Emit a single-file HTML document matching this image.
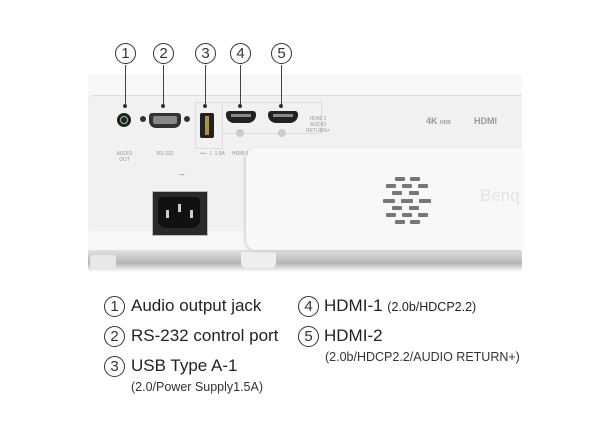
<!DOCTYPE html>
<html><head><style>
body{margin:0;width:615px;height:431px;background:#fff;position:relative;overflow:hidden;font-family:"Liberation Sans",sans-serif;color:#222}
.a{position:absolute}
.c{position:absolute;width:19px;height:19px;border:1.3px solid #333;border-radius:50%;text-align:center;line-height:19px;font-size:15px;color:#333;background:#fff}
.l{position:absolute;width:1px;background:#444}
.d{position:absolute;width:4px;height:4px;border-radius:50%;background:#333}
.t{position:absolute;font-size:17px;color:#222;white-space:nowrap}
.s{position:absolute;font-size:12.5px;color:#333;white-space:nowrap}
.lab{position:absolute;font-size:5px;color:#999;text-align:center;line-height:6px}
.g{position:absolute;width:10px;height:4px;background:#777;border-radius:1px}
</style></head><body>
<div class="a" style="left:88px;top:75px;width:434px;height:185px;background:#f7f7f7"></div>
<div class="a" style="left:88px;top:95px;width:434px;height:135px;background:#f1f1f1;border-top:1px solid #ddd;border-radius:6px 0 0 6px"></div>
<div class="a" style="left:88px;top:250px;width:434px;height:22px;background:linear-gradient(#e2e2e2,#b5b5b5 60%,#fff)"></div>
<div class="a" style="left:90px;top:255px;width:26px;height:14px;background:#e8e8e8;border-radius:3px"></div>
<div class="a" style="left:241px;top:252px;width:35px;height:16px;background:#eee;border-radius:0 0 5px 5px"></div>
<div class="a" style="left:246px;top:148px;width:276px;height:102px;background:#f8f8f8;border-radius:10px 0 0 10px;box-shadow:-1px 1px 3px #ccc"></div>
<div class="a" style="left:480px;top:186px;font-size:17px;color:#e4e4e4">Benq</div>
<div class="g" style="left:395px;top:177px"></div><div class="g" style="left:410px;top:177px"></div>
<div class="g" style="left:386px;top:184px"></div><div class="g" style="left:402px;top:184px"></div><div class="g" style="left:418px;top:184px"></div>
<div class="g" style="left:392px;top:191px"></div><div class="g" style="left:409px;top:191px"></div>
<div class="g" style="left:383px;top:199px;width:12px"></div><div class="g" style="left:401px;top:199px;width:12px"></div><div class="g" style="left:419px;top:199px;width:12px"></div>
<div class="g" style="left:392px;top:206px"></div><div class="g" style="left:409px;top:206px"></div>
<div class="g" style="left:386px;top:213px"></div><div class="g" style="left:402px;top:213px"></div><div class="g" style="left:418px;top:213px"></div>
<div class="g" style="left:395px;top:220px"></div><div class="g" style="left:410px;top:220px"></div>
<div class="a" style="left:179px;top:170px;font-size:10px;color:#888">~</div>
<div class="a" style="left:152px;top:191px;width:54px;height:43px;background:#2a2a2a;border:1px solid #bbb"></div>
<div class="a" style="left:158px;top:197px;width:42px;height:31px;background:#111;border-radius:4px 4px 8px 8px"></div>
<div class="a" style="left:166px;top:210px;width:3px;height:8px;background:#ccc"></div>
<div class="a" style="left:178px;top:204px;width:3px;height:8px;background:#ccc"></div>
<div class="a" style="left:190px;top:210px;width:3px;height:8px;background:#ccc"></div>
<div class="a" style="left:195px;top:102px;width:26px;height:45px;border:1px solid #ddd"></div>
<div class="a" style="left:221px;top:102px;width:100px;height:30px;border:1px solid #ddd;border-left:none"></div>
<div class="a" style="left:117px;top:113px;width:14px;height:14px;border-radius:50%;background:#222"></div>
<div class="a" style="left:120px;top:116px;width:6px;height:6px;border-radius:50%;border:1.5px solid #9c9"></div>
<div class="a" style="left:140px;top:116px;width:6px;height:6px;border-radius:50%;background:#333"></div>
<div class="a" style="left:149px;top:113px;width:32px;height:15px;background:#333;border-radius:3px 3px 7px 7px"></div>
<div class="a" style="left:153px;top:116px;width:24px;height:8px;background:#888;border-radius:2px"></div>
<div class="a" style="left:184px;top:116px;width:6px;height:6px;border-radius:50%;background:#333"></div>
<div class="a" style="left:200px;top:113px;width:14px;height:25px;background:#222;border-radius:2px"></div>
<div class="a" style="left:205px;top:116px;width:4px;height:19px;background:#b09040"></div>
<div class="a" style="left:226px;top:111px;width:30px;height:12px;background:#222;border-radius:3px 3px 8px 8px"></div>
<div class="a" style="left:231px;top:114px;width:20px;height:3px;background:#888"></div>
<div class="a" style="left:268px;top:111px;width:30px;height:12px;background:#222;border-radius:3px 3px 8px 8px"></div>
<div class="a" style="left:273px;top:114px;width:20px;height:3px;background:#888"></div>
<div class="a" style="left:236px;top:129px;width:8px;height:8px;border-radius:50%;background:#ccc"></div>
<div class="a" style="left:278px;top:129px;width:8px;height:8px;border-radius:50%;background:#ccc"></div>
<div class="lab" style="left:112px;top:151px;width:25px">AUDIO<br>OUT</div>
<div class="lab" style="left:150px;top:151px;width:30px">RS-232</div>
<div class="lab" style="left:190px;top:151px;width:45px">•⊷ ⏚ 1.5A</div>
<div class="lab" style="left:228px;top:151px;width:25px">HDMI 1</div>
<div class="lab" style="left:303px;top:116px;width:30px">HDMI 2<br>AUDIO<br>RETURN+</div>
<div class="a" style="left:426px;top:116px;font-size:9px;font-weight:bold;color:#999">4K <span style="font-size:5px">HDR</span></div>
<div class="a" style="left:474px;top:116px;font-size:9px;font-weight:bold;color:#999">HDMI</div>
<div class="c" style="left:115px;top:43px">1</div>
<div class="c" style="left:153px;top:43px">2</div>
<div class="c" style="left:195px;top:43px">3</div>
<div class="c" style="left:230px;top:43px">4</div>
<div class="c" style="left:271px;top:43px">5</div>
<div class="l" style="left:125px;top:65px;height:40px"></div><div class="d" style="left:123px;top:104px"></div>
<div class="l" style="left:163px;top:65px;height:40px"></div><div class="d" style="left:161px;top:104px"></div>
<div class="l" style="left:205px;top:65px;height:40px"></div><div class="d" style="left:203px;top:104px"></div>
<div class="l" style="left:240px;top:65px;height:40px"></div><div class="d" style="left:238px;top:104px"></div>
<div class="l" style="left:281px;top:65px;height:40px"></div><div class="d" style="left:279px;top:104px"></div>
<div class="c" style="left:104px;top:296px">1</div><div class="t" style="left:131px;top:296px">Audio output jack</div>
<div class="c" style="left:104px;top:326px">2</div><div class="t" style="left:131px;top:326px">RS-232 control port</div>
<div class="c" style="left:104px;top:356px">3</div><div class="t" style="left:131px;top:356px">USB Type A-1</div>
<div class="s" style="left:131px;top:380px">(2.0/Power Supply1.5A)</div>
<div class="c" style="left:298px;top:296px">4</div><div class="t" style="left:324px;top:296px">HDMI-1 <span style="font-size:12.5px">(2.0b/HDCP2.2)</span></div>
<div class="c" style="left:298px;top:326px">5</div><div class="t" style="left:324px;top:326px">HDMI-2</div>
<div class="s" style="left:325px;top:350px">(2.0b/HDCP2.2/AUDIO RETURN+)</div>
</body></html>
